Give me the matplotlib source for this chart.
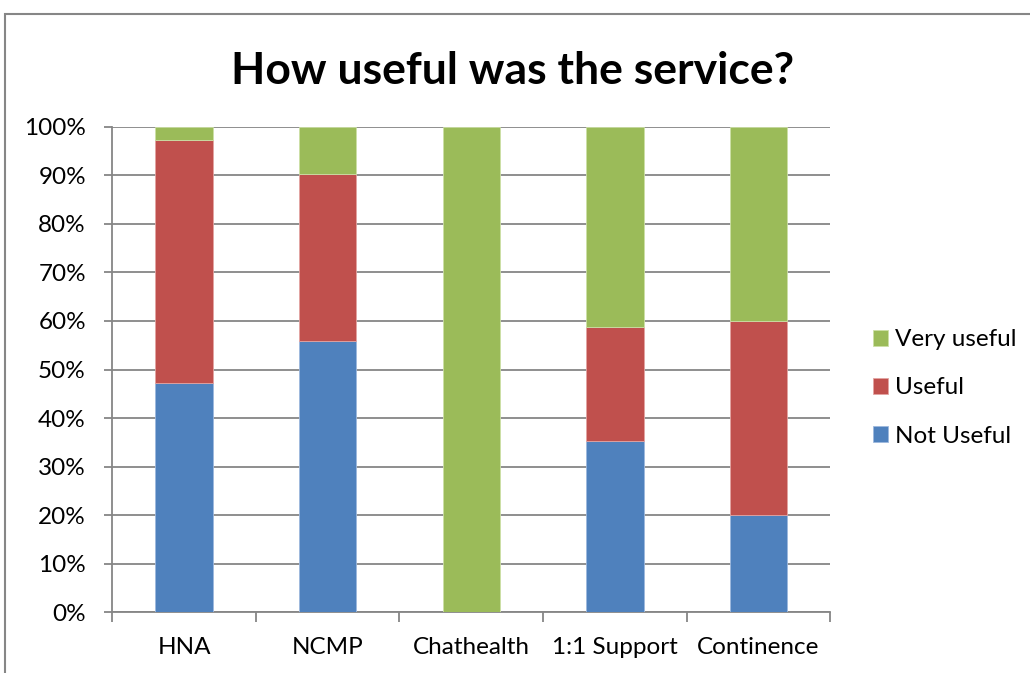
import numpy as np
import matplotlib.pyplot as plt
from matplotlib.patches import Rectangle
from matplotlib.ticker import PercentFormatter

plt.rcParams['font.family'] = ['Lato', 'DejaVu Sans']

services = ['HNA', 'NCMP', 'Chathealth', '1:1 Support', 'Continence']
not_useful = [47.2, 55.8, 0.0, 35.3, 20.0]
useful = [50.0, 34.4, 0.0, 23.5, 40.0]
very_useful = [2.8, 9.8, 100.0, 41.2, 40.0]

blue = '#4F81BD'
red = '#C0504D'
green = '#9BBB59'
grid_grey = '#868686'

fig = plt.figure(figsize=(10.3, 6.73), dpi=100)
ax = fig.add_axes([0.109, 0.0902, 0.697, 0.7215])

x = np.arange(len(services))
nu = np.array(not_useful)
u = np.array(useful)
vu = np.array(very_useful)

b1 = ax.bar(x, nu, width=0.4, color=blue, edgecolor='#9DB9DE', linewidth=0.6, zorder=3)
b2 = ax.bar(x, u, width=0.4, bottom=nu, color=red, edgecolor='#E3A4A2', linewidth=0.6, zorder=3)
b3 = ax.bar(x, vu, width=0.4, bottom=nu + u, color=green, edgecolor='#CCE0A6', linewidth=0.6, zorder=3)

ax.set_xlim(-0.5, len(services) - 0.5)
ax.set_ylim(0, 100)
ax.set_yticks(np.arange(0, 101, 10))
ax.yaxis.set_major_formatter(PercentFormatter(decimals=0))
ax.grid(axis='y', color=grid_grey, linewidth=1.3, zorder=0)

# category labels centred, tick marks on the category boundaries
ax.set_xticks(x)
ax.set_xticklabels(services, fontsize=17.5)
ax.tick_params(axis='x', length=0, pad=18)
ax.set_xticks(np.arange(-0.5, len(services), 1), minor=True)
ax.tick_params(axis='x', which='minor', length=7, width=1.3, color=grid_grey)
ax.tick_params(axis='y', length=6, width=1.3, color=grid_grey, labelsize=17.5, pad=13)

for side in ['top', 'right']:
    ax.spines[side].set_visible(False)
for side in ['left', 'bottom']:
    ax.spines[side].set_color(grid_grey)
    ax.spines[side].set_linewidth(1.3)

fig.text(0.498, 0.895, 'How useful was the service?', ha='center', va='center',
         fontsize=32, fontweight='bold')

ax.legend([b3, b2, b1], ['Very useful', 'Useful', 'Not Useful'],
          loc='center left', bbox_to_anchor=(0.8476, 0.4235), bbox_transform=fig.transFigure,
          frameon=False, fontsize=17.5, handlelength=0.62, handleheight=0.62,
          handletextpad=0.3, labelspacing=1.12, borderpad=0, borderaxespad=0)

# chart frame
fig.patches.append(Rectangle((5 / 1030, -0.1), 1.2, 1 - 14 / 673 + 0.1,
                             transform=fig.transFigure, fill=False,
                             edgecolor=grid_grey, linewidth=1.5))

fig.savefig('out.png', dpi=100)
